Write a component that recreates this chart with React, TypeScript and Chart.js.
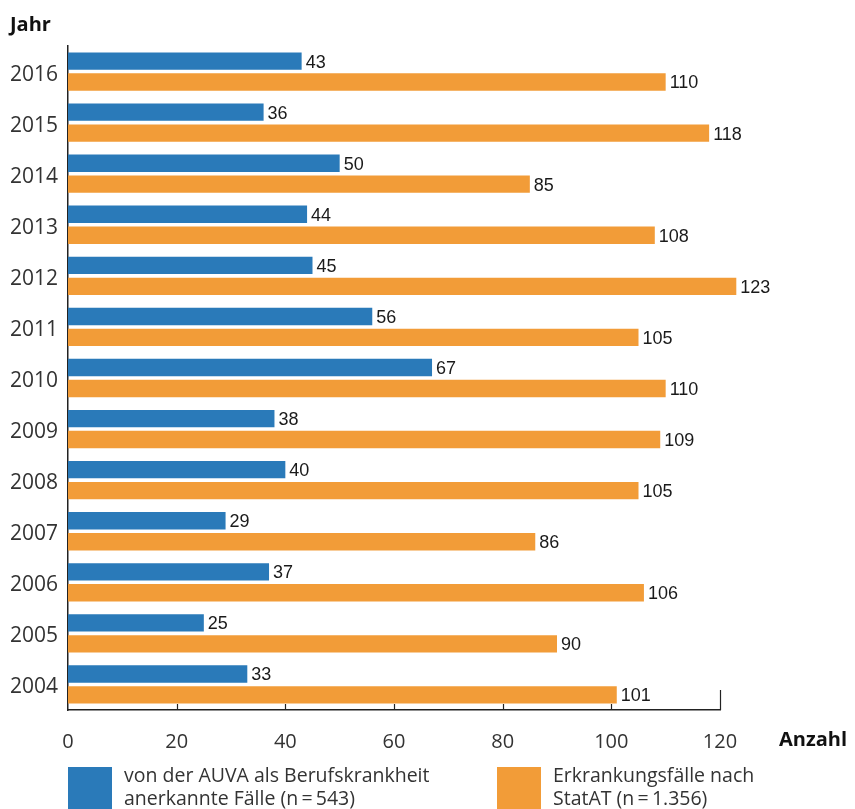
import React, { useEffect, useRef } from "react";
import { Chart, registerables } from "chart.js";

Chart.register(...registerables);

const years = ["2016", "2015", "2014", "2013", "2012", "2011", "2010", "2009", "2008", "2007", "2006", "2005", "2004"];
const auvaCases = [43, 36, 50, 44, 45, 56, 67, 38, 40, 29, 37, 25, 33];
const statATCases = [110, 118, 85, 108, 123, 105, 110, 109, 105, 86, 106, 90, 101];
const xTicks = [0, 20, 40, 60, 80, 100, 120];
const legendAuva = ["von der AUVA als Berufskrankheit", "anerkannte Fälle (n\u2009=\u2009543)"];
const legendStat = ["Erkrankungsfälle nach", "StatAT (n\u2009=\u20091.356)"];

const BLUE = "#2a7ab9";
const ORANGE = "#f29c38";
const TEXT = "#333333";

const decorPlugin = {
  id: "decor",
  afterDatasetsDraw(chart: any) {
    const { ctx, chartArea } = chart;
    const xs = chart.scales.x;
    ctx.save();
    // inner tick marks
    ctx.strokeStyle = "#222";
    ctx.lineWidth = 1.2;
    xTicks.forEach((v) => {
      if (v === 0) return;
      const px = Math.round(xs.getPixelForValue(v)) + 0.5;
      const len = v === xTicks[xTicks.length - 1] ? 20 : 6;
      ctx.beginPath();
      ctx.moveTo(px, chartArea.bottom);
      ctx.lineTo(px, chartArea.bottom - len);
      ctx.stroke();
    });
    // value labels
    ctx.fillStyle = "#1a1a1a";
    ctx.font = "18px 'Liberation Sans', Arial, sans-serif";
    ctx.textAlign = "left";
    ctx.textBaseline = "middle";
    chart.data.datasets.forEach((ds: any, di: number) => {
      const meta = chart.getDatasetMeta(di);
      meta.data.forEach((bar: any, i: number) => {
        ctx.fillText(String(ds.data[i]), bar.x + 4, bar.y + 1.5);
      });
    });
    ctx.restore();
  },
};

export default function App() {
  const ref = useRef<HTMLCanvasElement>(null);
  useEffect(() => {
    if (!ref.current) return;
    const chart = new Chart(ref.current, {
      type: "bar",
      data: {
        labels: years,
        datasets: [
          { label: legendAuva.join(" "), data: auvaCases, backgroundColor: BLUE, clip: false as any },
          { label: legendStat.join(" "), data: statATCases, backgroundColor: ORANGE, clip: false as any },
        ],
      },
      options: {
        indexAxis: "y",
        responsive: false,
        animation: false,
        devicePixelRatio: 1,
        layout: { padding: { top: 46, right: 135, left: 0, bottom: 0 } },
        datasets: { bar: { categoryPercentage: 0.82, barPercentage: 0.83 } },
        plugins: { legend: { display: false }, tooltip: { enabled: false } },
        scales: {
          x: {
            min: 0,
            max: 120,
            afterFit: (s: any) => { s.height = 99; },
            afterBuildTicks: (s: any) => { s.ticks = xTicks.map((v) => ({ value: v })); },
            grid: { display: false, drawTicks: false },
            border: { display: true, color: "#222", width: 1.5 },
            ticks: {
              color: TEXT,
              padding: 20,
              maxRotation: 0,
              font: { family: "'Open Sans', sans-serif", size: 20 },
            },
          },
          y: {
            afterFit: (s: any) => { s.width = 68; },
            grid: { display: false, drawTicks: false },
            border: { display: true, color: "#222", width: 1.5 },
            ticks: {
              color: TEXT,
              padding: 10,
              labelOffset: 3,
              font: { family: "'Open Sans', sans-serif", size: 21 },
            },
          },
        },
      },
      plugins: [decorPlugin],
    });
    return () => chart.destroy();
  }, []);

  const textStyle: React.CSSProperties = {
    position: "absolute",
    fontFamily: "'Open Sans', sans-serif",
    fontSize: 19.5,
    lineHeight: "23px",
    color: TEXT,
    whiteSpace: "nowrap",
  };

  return (
    <div style={{ position: "absolute", left: 0, top: 0, width: 855, height: 809, overflow: "hidden", background: "#fff" }}>
      <canvas ref={ref} width={855} height={809} style={{ position: "absolute", left: 0, top: 0 }} />
      <div style={{ ...textStyle, left: 10, top: 12, fontWeight: 700, fontSize: 20, color: "#111" }}>Jahr</div>
      <div style={{ ...textStyle, left: 779, top: 727, fontWeight: 700, fontSize: 20, color: "#111" }}>Anzahl</div>
      <div style={{ position: "absolute", left: 68, top: 767, width: 44, height: 42, background: BLUE }} />
      <div style={{ ...textStyle, left: 124, top: 763 }}>
        {legendAuva[0]}
        <br />
        {legendAuva[1]}
      </div>
      <div style={{ position: "absolute", left: 497, top: 767, width: 44, height: 42, background: ORANGE }} />
      <div style={{ ...textStyle, left: 553, top: 763 }}>
        {legendStat[0]}
        <br />
        {legendStat[1]}
      </div>
    </div>
  );
}
